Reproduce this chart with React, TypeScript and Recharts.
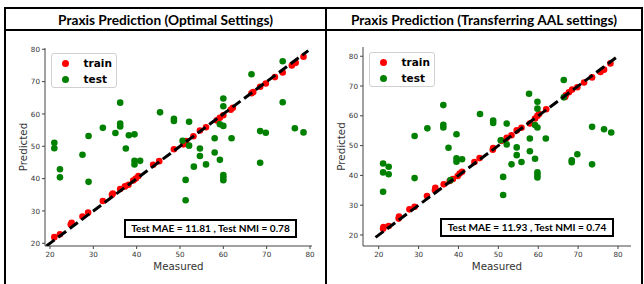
import React from 'react';
import { ScatterChart, Scatter, XAxis, YAxis, Legend } from 'recharts';

type Pt = { x: number; y: number };
const P = (a: number[][]): Pt[] => a.map(([x, y]) => ({ x, y }));

const axisTicks = [20, 30, 40, 50, 60, 70, 80];
const titles = ['Praxis Prediction (Optimal Settings)', 'Praxis Prediction (Transferring AAL settings)'];
const metricTexts = ['Test MAE = 11.81 , Test NMI = 0.78', 'Test MAE = 11.93 , Test NMI = 0.74'];
const seriesNames = ['train', 'test'];

const leftTrain = P([
  [21.0, 21.9], [22.3, 22.8], [24.8, 25.8], [25.0, 26.3], [27.5, 28.3], [28.8, 29.5], [32.2, 33.1],
  [34.3, 35.0], [34.5, 35.4], [36.2, 36.8], [37.3, 37.6], [38.1, 38.1], [39.2, 39.4], [39.8, 40.0],
  [40.4, 40.8], [43.8, 44.3], [45.2, 45.4], [48.6, 49.1], [50.8, 50.6], [51.4, 51.6], [53.1, 53.1],
  [54.6, 54.9], [56.0, 55.9], [58.5, 58.0], [59.2, 58.8], [60.0, 59.6], [61.7, 61.3], [62.2, 61.9],
  [66.5, 66.4], [66.9, 66.8], [68.5, 68.4], [69.8, 69.4], [71.9, 71.4], [73.7, 72.8], [75.8, 75.0],
  [76.7, 75.8], [78.5, 77.7],
]);
const leftTest = P([
  [21.0, 51.1], [21.0, 49.4], [22.3, 42.9], [22.3, 40.4], [27.5, 47.4], [28.9, 53.2], [28.9, 39.0],
  [32.2, 55.7], [35.1, 54.1], [36.2, 63.5], [36.2, 57.0], [36.2, 56.1], [37.5, 49.3], [38.2, 53.4],
  [39.5, 53.7], [39.5, 45.5], [39.5, 44.4], [40.8, 45.5], [45.4, 60.5], [48.6, 58.5], [48.6, 57.8],
  [52.1, 57.6], [60.0, 64.8], [60.0, 62.4], [59.2, 56.8], [60.0, 56.3], [66.5, 72.3], [73.7, 76.3],
  [73.7, 63.6], [68.5, 54.7], [69.8, 54.2], [76.5, 55.6], [78.5, 54.3], [50.6, 51.7], [52.1, 50.2],
  [58.0, 52.5], [61.9, 52.5], [54.6, 49.3], [54.6, 47.0], [58.0, 48.1], [56.0, 44.4], [59.2, 45.8],
  [53.2, 43.7], [68.5, 44.9], [51.3, 39.6], [51.3, 33.3], [60.0, 41.1], [60.0, 40.3], [60.0, 39.5],
]);
const leftDiag = P([[19.2, 19.2], [79.6, 79.6]]);

const rightTrain = P([
  [21.1, 22.1], [21.2, 22.7], [22.5, 23.0], [25.0, 25.5], [25.1, 26.2], [27.7, 28.6], [29.0, 29.5],
  [32.1, 33.1], [34.1, 35.0], [34.2, 35.8], [36.3, 37.0], [37.8, 38.1], [38.6, 38.8], [39.8, 39.8],
  [40.3, 40.6], [40.9, 41.2], [44.0, 44.5], [45.3, 45.8], [48.6, 48.6], [48.7, 49.2], [50.8, 51.6],
  [52.1, 52.6], [53.3, 53.5], [54.6, 55.1], [55.8, 56.0], [57.9, 57.4], [59.2, 59.1], [59.8, 60.0],
  [60.2, 60.6], [62.0, 62.2], [66.7, 66.3], [66.9, 66.9], [67.7, 67.9], [68.5, 68.8], [69.8, 69.6],
  [71.5, 71.2], [73.5, 72.9], [75.6, 74.7], [76.5, 75.5], [78.1, 77.6],
]);
const rightTest = P([
  [21.1, 44.0], [21.1, 41.0], [22.5, 42.9], [22.5, 40.4], [21.1, 34.5], [29.0, 39.1], [29.0, 53.2],
  [32.2, 55.8], [36.2, 63.6], [36.2, 57.0], [36.2, 56.1], [37.5, 49.3], [39.5, 53.8], [39.5, 45.7],
  [39.5, 44.6], [40.9, 45.4], [38.0, 38.4], [45.4, 60.6], [48.7, 58.4], [48.7, 57.6], [52.1, 57.4],
  [57.7, 67.4], [59.8, 64.7], [59.8, 62.4], [59.2, 56.9], [59.8, 56.1], [66.4, 72.0], [66.4, 66.2],
  [73.5, 56.3], [76.5, 55.5], [78.3, 54.4], [50.6, 51.8], [52.1, 50.4], [54.6, 49.4], [54.6, 46.8],
  [57.9, 52.4], [61.9, 52.4], [57.9, 48.1], [53.3, 43.7], [55.8, 44.5], [59.2, 45.6], [59.8, 41.0],
  [59.8, 40.1], [59.8, 39.3], [51.2, 39.5], [51.2, 33.4], [68.4, 45.1], [68.4, 44.4], [69.8, 47.1],
  [73.5, 43.7],
]);
const rightDiag = P([[19.2, 19.2], [80.1, 80.1]]);

const RED = '#ff0000';
const GREEN = '#008000';
const TICK_FONT = 'DejaVu Sans, sans-serif';
const BOX_FONT = 'Lato, sans-serif';

type PanelCfg = {
  left: number;
  title: string;
  metric: string;
  train: Pt[];
  test: Pt[];
  diag: Pt[];
  xDomain: [number, number];
  yDomain: [number, number];
  plot: { l: number; r: number; t: number; b: number };
  legend: { x: number; y: number; w: number; h: number };
  box: { x: number; y: number; w: number; h: number };
};

const W = 322;
const H = 284;

const dot = (color: string) => (p: any) => <circle cx={p.cx} cy={p.cy} r={3.3} fill={color} />;
const noDot = () => <g />;

function LegendBox({ w, h }: { w: number; h: number }) {
  return (
    <div
      style={{
        boxSizing: 'border-box',
        width: w,
        height: h,
        border: '1px solid #d0d0d0',
        borderRadius: 3,
        background: 'rgba(255,255,255,0.85)',
        position: 'relative',
        fontFamily: TICK_FONT,
        fontWeight: 'bold',
        fontSize: 10.5,
        color: '#000',
      }}
    >
      {seriesNames.map((n, i) => (
        <div key={n} style={{ position: 'absolute', left: 0, top: i === 0 ? 2 : 18, height: 15, width: w, lineHeight: '15px' }}>
          <span
            style={{
              position: 'absolute',
              left: 10.5,
              top: 4,
              width: 7,
              height: 7,
              borderRadius: '50%',
              background: i === 0 ? RED : GREEN,
            }}
          />
          <span style={{ position: 'absolute', left: 32 }}>{n}</span>
        </div>
      ))}
    </div>
  );
}

function Panel(c: PanelCfg) {
  const yAxisW = c.plot.l;
  const xAxisH = 30;
  const margin = { top: c.plot.t, right: W - c.plot.r, bottom: H - c.plot.b - xAxisH, left: 0 };
  const midX = (c.plot.l + c.plot.r) / 2;
  const midY = (c.plot.t + c.plot.b) / 2;
  const tickStyle = { fontSize: 7.2, fill: '#333', fontFamily: TICK_FONT };
  return (
    <div style={{ position: 'absolute', left: c.left, top: 0, width: W, height: H }}>
      <ScatterChart width={W} height={H} margin={margin}>
        <XAxis
          type="number"
          dataKey="x"
          domain={c.xDomain}
          ticks={axisTicks}
          allowDataOverflow
          height={xAxisH}
          tick={tickStyle}
          tickSize={3}
          tickMargin={2.5}
          stroke="#444"
          axisLine={{ stroke: '#444' }}
          tickLine={{ stroke: '#444' }}
          label={{
            content: () => (
              <text x={midX} y={269.5} textAnchor="middle" fontSize={10.3} fill="#333" fontFamily={TICK_FONT}>
                Measured
              </text>
            ),
          }}
        />
        <YAxis
          type="number"
          dataKey="y"
          domain={c.yDomain}
          ticks={axisTicks}
          allowDataOverflow
          width={yAxisW}
          tick={tickStyle}
          tickSize={3}
          tickMargin={2}
          stroke="#444"
          axisLine={{ stroke: '#444' }}
          tickLine={{ stroke: '#444' }}
          label={{
            content: () => {
              const bx = c.plot.l - 18.5;
              return (
                <text
                  x={bx}
                  y={midY}
                  textAnchor="middle"
                  fontSize={10.3}
                  fill="#333"
                  fontFamily={TICK_FONT}
                  transform={`rotate(-90, ${bx}, ${midY})`}
                >
                  Predicted
                </text>
              );
            },
          }}
        />
        <XAxis xAxisId="top" orientation="top" type="number" dataKey="x" domain={c.xDomain} allowDataOverflow height={0} tick={false} tickLine={false} axisLine={{ stroke: '#999' }} />
        <YAxis yAxisId="right" orientation="right" type="number" dataKey="y" domain={c.yDomain} allowDataOverflow width={0} tick={false} tickLine={false} axisLine={{ stroke: '#999' }} />
        <Legend
          layout="vertical"
          align="center"
          verticalAlign="middle"
          wrapperStyle={{ position: 'absolute', left: c.legend.x, top: c.legend.y, width: c.legend.w, height: c.legend.h }}
          content={() => <LegendBox w={c.legend.w} h={c.legend.h} />}
        />
        <Scatter name="train" data={c.train} fill={RED} shape={dot(RED)} isAnimationActive={false} />
        <Scatter name="test" data={c.test} fill={GREEN} shape={dot(GREEN)} isAnimationActive={false} />
        <Scatter
          name="diag"
          data={c.diag}
          fill="#000"
          shape={noDot}
          line={{ stroke: '#000', strokeWidth: 3, strokeDasharray: '10 4.5' }}
          legendType="none"
          isAnimationActive={false}
        />
      </ScatterChart>
      <div
        style={{
          position: 'absolute',
          left: c.box.x,
          top: c.box.y,
          width: c.box.w,
          height: c.box.h,
          boxSizing: 'border-box',
          border: '2px solid #000',
          background: '#fff',
          fontFamily: BOX_FONT,
          fontWeight: 'bold',
          fontSize: 10.1,
          lineHeight: `${c.box.h - 4}px`,
          textAlign: 'center',
          color: '#000',
          whiteSpace: 'nowrap',
        }}
      >
        {c.metric}
      </div>
    </div>
  );
}

const line = (l: number, t: number, w: number, h: number) => (
  <div style={{ position: 'absolute', left: l, top: t, width: w, height: h, background: '#000' }} />
);

export default function App() {
  return (
    <div style={{ position: 'absolute', left: 0, top: 0, width: 644, height: 284, background: '#fff', overflow: 'hidden' }}>
      <Panel
        left={0}
        title={titles[0]}
        metric={metricTexts[0]}
        train={leftTrain}
        test={leftTest}
        diag={leftDiag}
        xDomain={[18.85, 80.46]}
        yDomain={[19.16, 80.4]}
        plot={{ l: 45, r: 312, t: 48, b: 246 }}
        legend={{ x: 50.5, y: 53, w: 66, h: 35 }}
        box={{ x: 124, y: 219, w: 173, h: 19 }}
      />
      <Panel
        left={322}
        title={titles[1]}
        metric={metricTexts[1]}
        train={rightTrain}
        test={rightTest}
        diag={rightDiag}
        xDomain={[16.06, 83.26]}
        yDomain={[16.3, 83.1]}
        plot={{ l: 41, r: 309, t: 47, b: 246 }}
        legend={{ x: 46.5, y: 51.5, w: 66, h: 35 }}
        box={{ x: 118, y: 218, w: 174, h: 19 }}
      />
      {line(4, 7, 639, 2)}
      {line(4, 28.5, 639, 2)}
      {line(4, 7, 2, 277)}
      {line(325, 7, 2, 277)}
      {line(641, 7, 2, 277)}
      {[0, 1].map((i) => (
        <div
          key={i}
          style={{
            position: 'absolute',
            left: i === 0 ? 6 : 327,
            top: 10,
            width: i === 0 ? 319 : 314,
            height: 19,
            lineHeight: '19px',
            textAlign: 'center',
            fontFamily: BOX_FONT,
            fontWeight: 'bold',
            fontSize: 13.7,
            color: '#000',
            whiteSpace: 'nowrap',
          }}
        >
          {titles[i]}
        </div>
      ))}
    </div>
  );
}
